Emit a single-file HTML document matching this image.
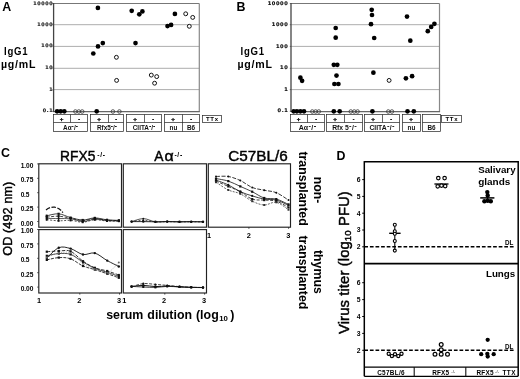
<!DOCTYPE html>
<html><head><meta charset="utf-8"><title>Figure</title>
<style>html,body{margin:0;padding:0;background:#fff;}svg{display:block;font-family:"Liberation Sans", sans-serif;}</style>
</head><body>
<svg width="520" height="379" viewBox="0 0 520 379">
<rect width="520" height="379" fill="#fff"/>
<line x1="53.6" y1="24.7" x2="199.3" y2="24.7" stroke="#a4a4a4" stroke-width="0.9" />
<line x1="53.6" y1="46.4" x2="199.3" y2="46.4" stroke="#a4a4a4" stroke-width="0.9" />
<line x1="53.6" y1="68.3" x2="199.3" y2="68.3" stroke="#a4a4a4" stroke-width="0.9" />
<line x1="53.6" y1="89.6" x2="199.3" y2="89.6" stroke="#a4a4a4" stroke-width="0.9" />
<line x1="53.6" y1="3.5" x2="199.3" y2="3.5" stroke="#777" stroke-width="1" />
<line x1="199.3" y1="3.5" x2="199.3" y2="111.3" stroke="#888" stroke-width="1.2" />
<line x1="53.6" y1="111.6" x2="199.9" y2="111.6" stroke="#666" stroke-width="1.1" />
<line x1="53.6" y1="3.0" x2="53.6" y2="112.1" stroke="#444" stroke-width="1.3" />
<line x1="52.4" y1="3.5" x2="53.6" y2="3.5" stroke="#444" stroke-width="0.7" />
<text x="53.3" y="4.5" font-size="4.8" font-weight="bold" text-anchor="end" fill="#111" font-family="DejaVu Sans, Liberation Sans, sans-serif" letter-spacing="0.65" stroke="#111" stroke-width="0.15">10000</text>
<line x1="52.4" y1="24.7" x2="53.6" y2="24.7" stroke="#444" stroke-width="0.7" />
<text x="53.3" y="25.7" font-size="4.8" font-weight="bold" text-anchor="end" fill="#111" font-family="DejaVu Sans, Liberation Sans, sans-serif" letter-spacing="0.65" stroke="#111" stroke-width="0.15">1000</text>
<line x1="52.4" y1="46.4" x2="53.6" y2="46.4" stroke="#444" stroke-width="0.7" />
<text x="53.3" y="47.4" font-size="4.8" font-weight="bold" text-anchor="end" fill="#111" font-family="DejaVu Sans, Liberation Sans, sans-serif" letter-spacing="0.65" stroke="#111" stroke-width="0.15">100</text>
<line x1="52.4" y1="68.3" x2="53.6" y2="68.3" stroke="#444" stroke-width="0.7" />
<text x="53.3" y="69.3" font-size="4.8" font-weight="bold" text-anchor="end" fill="#111" font-family="DejaVu Sans, Liberation Sans, sans-serif" letter-spacing="0.65" stroke="#111" stroke-width="0.15">10</text>
<line x1="52.4" y1="89.6" x2="53.6" y2="89.6" stroke="#444" stroke-width="0.7" />
<text x="53.3" y="90.6" font-size="4.8" font-weight="bold" text-anchor="end" fill="#111" font-family="DejaVu Sans, Liberation Sans, sans-serif" letter-spacing="0.65" stroke="#111" stroke-width="0.15">1</text>
<line x1="52.4" y1="111.3" x2="53.6" y2="111.3" stroke="#444" stroke-width="0.7" />
<text x="53.3" y="112.3" font-size="4.8" font-weight="bold" text-anchor="end" fill="#111" font-family="DejaVu Sans, Liberation Sans, sans-serif" letter-spacing="0.65" stroke="#111" stroke-width="0.15">0.1</text>
<circle cx="97.9" cy="7.9" r="2.35" fill="#000"/>
<circle cx="102.8" cy="43.1" r="2.35" fill="#000"/>
<circle cx="98.0" cy="46.4" r="2.35" fill="#000"/>
<circle cx="93.3" cy="53.5" r="2.35" fill="#000"/>
<circle cx="131.7" cy="10.8" r="2.35" fill="#000"/>
<circle cx="139.3" cy="14.3" r="2.35" fill="#000"/>
<circle cx="142.4" cy="11.4" r="2.35" fill="#000"/>
<circle cx="135.5" cy="43.1" r="2.35" fill="#000"/>
<circle cx="174.9" cy="13.9" r="2.35" fill="#000"/>
<circle cx="167.5" cy="26.1" r="2.35" fill="#000"/>
<circle cx="171.1" cy="24.9" r="2.35" fill="#000"/>
<circle cx="116.4" cy="57.3" r="1.95" fill="#fff" stroke="#111" stroke-width="1.0"/>
<circle cx="116.6" cy="80.4" r="1.95" fill="#fff" stroke="#111" stroke-width="1.0"/>
<circle cx="185.7" cy="13.8" r="1.95" fill="#fff" stroke="#111" stroke-width="1.0"/>
<circle cx="192.7" cy="17.4" r="1.95" fill="#fff" stroke="#111" stroke-width="1.0"/>
<circle cx="189.3" cy="26.3" r="1.95" fill="#fff" stroke="#111" stroke-width="1.0"/>
<circle cx="151.3" cy="75.1" r="1.95" fill="#fff" stroke="#111" stroke-width="1.0"/>
<circle cx="156.7" cy="76.6" r="1.95" fill="#fff" stroke="#111" stroke-width="1.0"/>
<circle cx="154.6" cy="83.2" r="1.95" fill="#fff" stroke="#111" stroke-width="1.0"/>
<circle cx="75.4" cy="111.5" r="1.8" fill="none" stroke="#333" stroke-width="0.8"/>
<circle cx="78.8" cy="111.5" r="1.8" fill="none" stroke="#333" stroke-width="0.8"/>
<circle cx="82.2" cy="111.5" r="1.8" fill="none" stroke="#333" stroke-width="0.8"/>
<circle cx="112.9" cy="111.5" r="1.8" fill="none" stroke="#333" stroke-width="0.8"/>
<circle cx="119.4" cy="111.5" r="1.8" fill="none" stroke="#333" stroke-width="0.8"/>
<circle cx="57.1" cy="111.3" r="2.35" fill="#000"/>
<circle cx="60.7" cy="111.3" r="2.35" fill="#000"/>
<circle cx="64.3" cy="111.3" r="2.35" fill="#000"/>
<circle cx="96.7" cy="111.3" r="2.35" fill="#000"/>
<text x="2.3" y="10.6" font-size="12.4" font-weight="bold" text-anchor="start" fill="#000" >A</text>
<text transform="translate(3.9,55.0) scale(0.88,1)" font-size="10.9" font-weight="bold" fill="#000" letter-spacing="0.95">IgG1</text>
<text x="1.0" y="67.8" font-size="10.6" font-weight="bold" text-anchor="start" fill="#000" textLength="34.5" lengthAdjust="spacing">µg/mL</text>
<rect x="53.5" y="114.5" width="34.0" height="17.0" fill="none" stroke="#222" stroke-width="0.7"/>
<line x1="53.5" y1="122.5" x2="87.5" y2="122.5" stroke="#222" stroke-width="0.7" />
<line x1="70.5" y1="114.5" x2="70.5" y2="122.5" stroke="#222" stroke-width="0.7" />
<text x="61.6" y="120.9" font-size="6.2" font-weight="bold" text-anchor="middle" fill="#000" stroke="#000" stroke-width="0.3">+</text>
<text x="79.0" y="120.6" font-size="6.5" font-weight="bold" text-anchor="middle" fill="#000" >-</text>
<text x="70.5" y="129.7" font-size="6.4" font-weight="bold" text-anchor="middle" fill="#111">Aα<tspan dy="-2.2" font-size="6.8">-</tspan><tspan dy="2.2">/</tspan><tspan dy="-2.2" font-size="6.8">-</tspan></text>
<rect x="90.5" y="114.5" width="33.0" height="17.0" fill="none" stroke="#222" stroke-width="0.7"/>
<line x1="90.5" y1="122.5" x2="123.5" y2="122.5" stroke="#222" stroke-width="0.7" />
<line x1="108.5" y1="114.5" x2="108.5" y2="122.5" stroke="#222" stroke-width="0.7" />
<text x="99.1" y="120.9" font-size="6.2" font-weight="bold" text-anchor="middle" fill="#000" stroke="#000" stroke-width="0.3">+</text>
<text x="116.0" y="120.6" font-size="6.5" font-weight="bold" text-anchor="middle" fill="#000" >-</text>
<text x="107.0" y="129.7" font-size="6.4" font-weight="bold" text-anchor="middle" fill="#111">Rfx5<tspan dy="-2.2" font-size="6.8">-</tspan><tspan dy="2.2">/</tspan><tspan dy="-2.2" font-size="6.8">-</tspan></text>
<rect x="126.5" y="114.5" width="35.0" height="17.0" fill="none" stroke="#222" stroke-width="0.7"/>
<line x1="126.5" y1="122.5" x2="161.5" y2="122.5" stroke="#222" stroke-width="0.7" />
<line x1="144.5" y1="114.5" x2="144.5" y2="122.5" stroke="#222" stroke-width="0.7" />
<text x="135.1" y="120.9" font-size="6.2" font-weight="bold" text-anchor="middle" fill="#000" stroke="#000" stroke-width="0.3">+</text>
<text x="153.0" y="120.6" font-size="6.5" font-weight="bold" text-anchor="middle" fill="#000" >-</text>
<text x="144.0" y="129.7" font-size="6.4" font-weight="bold" text-anchor="middle" fill="#111">CIITA<tspan dy="-2.2" font-size="6.8">-</tspan><tspan dy="2.2">/</tspan><tspan dy="-2.2" font-size="6.8">-</tspan></text>
<rect x="164.5" y="114.5" width="35.0" height="17.0" fill="none" stroke="#222" stroke-width="0.7"/>
<line x1="164.5" y1="122.5" x2="199.5" y2="122.5" stroke="#222" stroke-width="0.7" />
<line x1="182.5" y1="114.5" x2="182.5" y2="131.5" stroke="#222" stroke-width="0.7" />
<text x="173.1" y="120.9" font-size="6.2" font-weight="bold" text-anchor="middle" fill="#000" stroke="#000" stroke-width="0.3">+</text>
<text x="191.0" y="120.6" font-size="6.5" font-weight="bold" text-anchor="middle" fill="#000" >-</text>
<text x="173.5" y="129.7" font-size="6.4" font-weight="bold" text-anchor="middle" fill="#111">nu</text>
<text x="191.0" y="129.7" font-size="6.4" font-weight="bold" text-anchor="middle" fill="#111">B6</text>
<rect x="202.5" y="115.5" width="19.0" height="7" fill="none" stroke="#222" stroke-width="0.7"/>
<text x="212.3" y="121.3" font-size="6.0" font-weight="bold" text-anchor="middle" fill="#000" letter-spacing="0.7">TTx</text>
<line x1="291.0" y1="24.7" x2="439.5" y2="24.7" stroke="#a4a4a4" stroke-width="0.9" />
<line x1="291.0" y1="46.4" x2="439.5" y2="46.4" stroke="#a4a4a4" stroke-width="0.9" />
<line x1="291.0" y1="68.3" x2="439.5" y2="68.3" stroke="#a4a4a4" stroke-width="0.9" />
<line x1="291.0" y1="89.6" x2="439.5" y2="89.6" stroke="#a4a4a4" stroke-width="0.9" />
<line x1="291.0" y1="3.5" x2="439.5" y2="3.5" stroke="#777" stroke-width="1" />
<line x1="439.5" y1="3.5" x2="439.5" y2="111.3" stroke="#888" stroke-width="1.2" />
<line x1="291.0" y1="111.6" x2="440.1" y2="111.6" stroke="#666" stroke-width="1.1" />
<line x1="291.0" y1="3.0" x2="291.0" y2="112.1" stroke="#444" stroke-width="1.3" />
<line x1="289.8" y1="3.5" x2="291.0" y2="3.5" stroke="#444" stroke-width="0.7" />
<text x="288.4" y="4.6" font-size="5.1" font-weight="bold" text-anchor="end" fill="#111" font-family="DejaVu Sans, Liberation Sans, sans-serif" letter-spacing="0.6" stroke="#111" stroke-width="0.15">10000</text>
<line x1="289.8" y1="24.7" x2="291.0" y2="24.7" stroke="#444" stroke-width="0.7" />
<text x="288.4" y="25.8" font-size="5.1" font-weight="bold" text-anchor="end" fill="#111" font-family="DejaVu Sans, Liberation Sans, sans-serif" letter-spacing="0.6" stroke="#111" stroke-width="0.15">1000</text>
<line x1="289.8" y1="46.4" x2="291.0" y2="46.4" stroke="#444" stroke-width="0.7" />
<text x="288.4" y="47.5" font-size="5.1" font-weight="bold" text-anchor="end" fill="#111" font-family="DejaVu Sans, Liberation Sans, sans-serif" letter-spacing="0.6" stroke="#111" stroke-width="0.15">100</text>
<line x1="289.8" y1="68.3" x2="291.0" y2="68.3" stroke="#444" stroke-width="0.7" />
<text x="288.4" y="69.4" font-size="5.1" font-weight="bold" text-anchor="end" fill="#111" font-family="DejaVu Sans, Liberation Sans, sans-serif" letter-spacing="0.6" stroke="#111" stroke-width="0.15">10</text>
<line x1="289.8" y1="89.6" x2="291.0" y2="89.6" stroke="#444" stroke-width="0.7" />
<text x="288.4" y="90.7" font-size="5.1" font-weight="bold" text-anchor="end" fill="#111" font-family="DejaVu Sans, Liberation Sans, sans-serif" letter-spacing="0.6" stroke="#111" stroke-width="0.15">1</text>
<line x1="289.8" y1="111.3" x2="291.0" y2="111.3" stroke="#444" stroke-width="0.7" />
<text x="288.4" y="112.4" font-size="5.1" font-weight="bold" text-anchor="end" fill="#111" font-family="DejaVu Sans, Liberation Sans, sans-serif" letter-spacing="0.6" stroke="#111" stroke-width="0.15">0.1</text>
<circle cx="335.7" cy="28.0" r="2.35" fill="#000"/>
<circle cx="335.7" cy="37.7" r="2.35" fill="#000"/>
<circle cx="300.4" cy="77.7" r="2.35" fill="#000"/>
<circle cx="302.1" cy="80.8" r="2.35" fill="#000"/>
<circle cx="333.8" cy="64.8" r="2.35" fill="#000"/>
<circle cx="337.3" cy="64.8" r="2.35" fill="#000"/>
<circle cx="336.5" cy="75.6" r="2.35" fill="#000"/>
<circle cx="334.4" cy="84.0" r="2.35" fill="#000"/>
<circle cx="338.4" cy="84.0" r="2.35" fill="#000"/>
<circle cx="371.7" cy="9.8" r="2.35" fill="#000"/>
<circle cx="372.0" cy="15.0" r="2.35" fill="#000"/>
<circle cx="371.0" cy="24.2" r="2.35" fill="#000"/>
<circle cx="374.2" cy="38.0" r="2.35" fill="#000"/>
<circle cx="407.0" cy="16.6" r="2.35" fill="#000"/>
<circle cx="410.3" cy="40.7" r="2.35" fill="#000"/>
<circle cx="427.8" cy="31.2" r="2.35" fill="#000"/>
<circle cx="431.2" cy="26.9" r="2.35" fill="#000"/>
<circle cx="434.4" cy="23.8" r="2.35" fill="#000"/>
<circle cx="373.4" cy="72.7" r="2.35" fill="#000"/>
<circle cx="405.9" cy="78.3" r="2.35" fill="#000"/>
<circle cx="412.1" cy="76.2" r="2.35" fill="#000"/>
<circle cx="389.1" cy="80.4" r="1.95" fill="#fff" stroke="#111" stroke-width="1.0"/>
<circle cx="312.3" cy="111.5" r="1.8" fill="none" stroke="#333" stroke-width="0.8"/>
<circle cx="315.6" cy="111.5" r="1.8" fill="none" stroke="#333" stroke-width="0.8"/>
<circle cx="318.8" cy="111.5" r="1.8" fill="none" stroke="#333" stroke-width="0.8"/>
<circle cx="350.8" cy="111.5" r="1.8" fill="none" stroke="#333" stroke-width="0.8"/>
<circle cx="354.3" cy="111.5" r="1.8" fill="none" stroke="#333" stroke-width="0.8"/>
<circle cx="357.6" cy="111.5" r="1.8" fill="none" stroke="#333" stroke-width="0.8"/>
<circle cx="388.3" cy="111.5" r="1.8" fill="none" stroke="#333" stroke-width="0.8"/>
<circle cx="391.9" cy="111.5" r="1.8" fill="none" stroke="#333" stroke-width="0.8"/>
<circle cx="293.7" cy="111.3" r="2.35" fill="#000"/>
<circle cx="296.9" cy="111.3" r="2.35" fill="#000"/>
<circle cx="300.4" cy="111.3" r="2.35" fill="#000"/>
<circle cx="304.0" cy="111.3" r="2.35" fill="#000"/>
<circle cx="333.8" cy="111.3" r="2.35" fill="#000"/>
<circle cx="339.7" cy="111.3" r="2.35" fill="#000"/>
<circle cx="372.4" cy="111.3" r="2.35" fill="#000"/>
<circle cx="407.5" cy="111.3" r="2.35" fill="#000"/>
<circle cx="413.8" cy="111.3" r="2.35" fill="#000"/>
<text x="236.4" y="10.6" font-size="12.4" font-weight="bold" text-anchor="start" fill="#000" >B</text>
<text transform="translate(240.4,55.0) scale(0.88,1)" font-size="10.9" font-weight="bold" fill="#000" letter-spacing="0.95">IgG1</text>
<text x="237.5" y="67.8" font-size="10.6" font-weight="bold" text-anchor="start" fill="#000" textLength="34.5" lengthAdjust="spacing">µg/mL</text>
<rect x="290.5" y="114.5" width="34.0" height="17.0" fill="none" stroke="#222" stroke-width="0.7"/>
<line x1="290.5" y1="122.5" x2="324.5" y2="122.5" stroke="#222" stroke-width="0.7" />
<line x1="307.5" y1="114.5" x2="307.5" y2="122.5" stroke="#222" stroke-width="0.7" />
<text x="298.6" y="120.9" font-size="6.2" font-weight="bold" text-anchor="middle" fill="#000" stroke="#000" stroke-width="0.3">+</text>
<text x="316.0" y="120.6" font-size="6.5" font-weight="bold" text-anchor="middle" fill="#000" >-</text>
<text x="307.5" y="129.7" font-size="6.4" font-weight="bold" text-anchor="middle" fill="#111"><tspan font-size="7">Aα<tspan dy="-2.2" dx="0.3" font-size="7.5">-</tspan><tspan dy="2.2" dx="0.4">/</tspan><tspan dy="-2.2" dx="0.4" font-size="7.5">-</tspan></tspan></text>
<rect x="326.5" y="114.5" width="36.0" height="17.0" fill="none" stroke="#222" stroke-width="0.7"/>
<line x1="326.5" y1="122.5" x2="362.5" y2="122.5" stroke="#222" stroke-width="0.7" />
<line x1="344.5" y1="114.5" x2="344.5" y2="122.5" stroke="#222" stroke-width="0.7" />
<text x="335.1" y="120.9" font-size="6.2" font-weight="bold" text-anchor="middle" fill="#000" stroke="#000" stroke-width="0.3">+</text>
<text x="353.5" y="120.6" font-size="6.5" font-weight="bold" text-anchor="middle" fill="#000" >-</text>
<text x="344.5" y="129.7" font-size="6.4" font-weight="bold" text-anchor="middle" fill="#111"><tspan font-size="6.8">Rfx 5<tspan dy="-2.2" dx="0.3" font-size="7.5">-</tspan><tspan dy="2.2" dx="0.4">/</tspan><tspan dy="-2.2" dx="0.4" font-size="7.5">-</tspan></tspan></text>
<rect x="364.5" y="114.5" width="35.0" height="17.0" fill="none" stroke="#222" stroke-width="0.7"/>
<line x1="364.5" y1="122.5" x2="399.5" y2="122.5" stroke="#222" stroke-width="0.7" />
<line x1="382.5" y1="114.5" x2="382.5" y2="122.5" stroke="#222" stroke-width="0.7" />
<text x="373.1" y="120.9" font-size="6.2" font-weight="bold" text-anchor="middle" fill="#000" stroke="#000" stroke-width="0.3">+</text>
<text x="391.0" y="120.6" font-size="6.5" font-weight="bold" text-anchor="middle" fill="#000" >-</text>
<text x="382.0" y="129.7" font-size="6.4" font-weight="bold" text-anchor="middle" fill="#111"><tspan font-size="6.8">CIITA<tspan dy="-2.2" dx="0.3" font-size="7.5">-</tspan><tspan dy="2.2" dx="0.4">/</tspan><tspan dy="-2.2" dx="0.4" font-size="7.5">-</tspan></tspan></text>
<rect x="402.5" y="114.5" width="18.0" height="17.0" fill="none" stroke="#222" stroke-width="0.7"/>
<line x1="402.5" y1="122.5" x2="420.5" y2="122.5" stroke="#222" stroke-width="0.7" />
<text x="411.1" y="120.9" font-size="6.2" font-weight="bold" text-anchor="middle" fill="#000" stroke="#000" stroke-width="0.3">+</text>
<text x="411.5" y="129.7" font-size="6.4" font-weight="bold" text-anchor="middle" fill="#111">nu</text>
<rect x="422.5" y="114.5" width="18.0" height="17.0" fill="none" stroke="#222" stroke-width="0.7"/>
<line x1="422.5" y1="122.5" x2="440.5" y2="122.5" stroke="#222" stroke-width="0.7" />
<text x="431.5" y="129.7" font-size="6.4" font-weight="bold" text-anchor="middle" fill="#111">B6</text>
<rect x="441.5" y="115.5" width="20.0" height="7" fill="none" stroke="#222" stroke-width="0.7"/>
<text x="451.8" y="121.3" font-size="6.0" font-weight="bold" text-anchor="middle" fill="#000" letter-spacing="0.7">TTx</text>
<text x="1.0" y="157.1" font-size="12.4" font-weight="bold" text-anchor="start" fill="#000" >C</text>
<rect x="38.8" y="163.8" width="82.7" height="63.4" fill="none" stroke="#222" stroke-width="1.15"/>
<rect x="123.3" y="163.8" width="83.2" height="63.4" fill="none" stroke="#222" stroke-width="1.15"/>
<rect x="208.3" y="163.8" width="82.2" height="63.4" fill="none" stroke="#222" stroke-width="1.15"/>
<rect x="38.8" y="229.6" width="82.7" height="63.4" fill="none" stroke="#222" stroke-width="1.15"/>
<rect x="123.3" y="229.6" width="83.2" height="63.4" fill="none" stroke="#222" stroke-width="1.15"/>
<line x1="37.2" y1="163.9" x2="38.7" y2="163.9" stroke="#222" stroke-width="0.8" />
<text x="20.7" y="167.7" font-size="6.6" font-weight="bold" text-anchor="start" fill="#000" textLength="12.7" lengthAdjust="spacing">1.00</text>
<line x1="37.2" y1="229.5" x2="38.7" y2="229.5" stroke="#222" stroke-width="0.8" />
<text x="20.7" y="233.1" font-size="6.6" font-weight="bold" text-anchor="start" fill="#000" textLength="12.7" lengthAdjust="spacing">1.00</text>
<line x1="37.2" y1="178.3" x2="38.7" y2="178.3" stroke="#222" stroke-width="0.8" />
<text x="20.7" y="182.2" font-size="6.6" font-weight="bold" text-anchor="start" fill="#000" textLength="12.7" lengthAdjust="spacing">0.75</text>
<line x1="37.2" y1="243.9" x2="38.7" y2="243.9" stroke="#222" stroke-width="0.8" />
<text x="20.7" y="247.7" font-size="6.6" font-weight="bold" text-anchor="start" fill="#000" textLength="12.7" lengthAdjust="spacing">0.75</text>
<line x1="37.2" y1="192.7" x2="38.7" y2="192.7" stroke="#222" stroke-width="0.8" />
<text x="20.7" y="196.8" font-size="6.6" font-weight="bold" text-anchor="start" fill="#000" textLength="8.6" lengthAdjust="spacing">0.5</text>
<line x1="37.2" y1="258.3" x2="38.7" y2="258.3" stroke="#222" stroke-width="0.8" />
<text x="20.7" y="262.2" font-size="6.6" font-weight="bold" text-anchor="start" fill="#000" textLength="8.6" lengthAdjust="spacing">0.5</text>
<line x1="37.2" y1="207.1" x2="38.7" y2="207.1" stroke="#222" stroke-width="0.8" />
<text x="20.7" y="211.3" font-size="6.6" font-weight="bold" text-anchor="start" fill="#000" textLength="12.7" lengthAdjust="spacing">0.25</text>
<line x1="37.2" y1="272.7" x2="38.7" y2="272.7" stroke="#222" stroke-width="0.8" />
<text x="20.7" y="276.8" font-size="6.6" font-weight="bold" text-anchor="start" fill="#000" textLength="12.7" lengthAdjust="spacing">0.25</text>
<line x1="37.2" y1="221.5" x2="38.7" y2="221.5" stroke="#222" stroke-width="0.8" />
<text x="20.7" y="225.9" font-size="6.6" font-weight="bold" text-anchor="start" fill="#000" textLength="12.7" lengthAdjust="spacing">0.00</text>
<line x1="37.2" y1="287.1" x2="38.7" y2="287.1" stroke="#222" stroke-width="0.8" />
<text x="20.7" y="291.3" font-size="6.6" font-weight="bold" text-anchor="start" fill="#000" textLength="12.7" lengthAdjust="spacing">0.00</text>
<text x="39.0" y="302.6" font-size="7.4" font-weight="bold" text-anchor="middle" fill="#000" >1</text>
<text x="79.3" y="302.6" font-size="7.4" font-weight="bold" text-anchor="middle" fill="#000" >2</text>
<text x="119.1" y="302.6" font-size="7.4" font-weight="bold" text-anchor="middle" fill="#000" >3</text>
<text x="124.2" y="302.6" font-size="7.4" font-weight="bold" text-anchor="middle" fill="#000" >1</text>
<text x="164.0" y="302.6" font-size="7.4" font-weight="bold" text-anchor="middle" fill="#000" >2</text>
<text x="204.0" y="302.6" font-size="7.4" font-weight="bold" text-anchor="middle" fill="#000" >3</text>
<line x1="79.8" y1="293.0" x2="79.8" y2="294.6" stroke="#222" stroke-width="0.8" />
<line x1="119.5" y1="293.0" x2="119.5" y2="294.6" stroke="#222" stroke-width="0.8" />
<line x1="164.8" y1="293.0" x2="164.8" y2="294.6" stroke="#222" stroke-width="0.8" />
<line x1="204.6" y1="293.0" x2="204.6" y2="294.6" stroke="#222" stroke-width="0.8" />
<text x="209.0" y="237.5" font-size="7.4" font-weight="bold" text-anchor="middle" fill="#000" >1</text>
<text x="248.8" y="237.5" font-size="7.4" font-weight="bold" text-anchor="middle" fill="#000" >2</text>
<text x="288.4" y="237.5" font-size="7.4" font-weight="bold" text-anchor="middle" fill="#000" >3</text>
<line x1="248.9" y1="227.2" x2="248.9" y2="228.8" stroke="#222" stroke-width="0.8" />
<line x1="288.6" y1="227.2" x2="288.6" y2="228.8" stroke="#222" stroke-width="0.8" />
<text x="59.9" y="160.6" font-size="13.8" font-weight="normal" fill="#000" stroke="#000" stroke-width="0.4" letter-spacing="0.1">RFX5</text>
<text x="97.3" y="157.0" font-size="6.8" font-weight="bold" fill="#000" letter-spacing="0.7">-/-</text>
<text x="154.3" y="160.6" font-size="13.8" font-weight="normal" fill="#000" stroke="#000" stroke-width="0.4">A</text>
<text x="164.5" y="160.6" font-size="13.8" font-weight="normal" fill="#000" stroke="#000" stroke-width="0.4" textLength="9.2" lengthAdjust="spacingAndGlyphs">α</text>
<text x="174.4" y="157.0" font-size="6.8" font-weight="bold" fill="#000" letter-spacing="0.7">-/-</text>
<text x="228.3" y="160.6" font-size="13.8" font-weight="normal" fill="#000" stroke="#000" stroke-width="0.4" textLength="59.4" lengthAdjust="spacingAndGlyphs">C57BL/6</text>
<text transform="translate(11.6,255.7) rotate(-90)" font-size="12.8" font-weight="normal" fill="#000" stroke="#000" stroke-width="0.4">OD (492 nm)</text>
<text x="106.2" y="318.5" font-size="12.4" font-weight="bold" fill="#000" word-spacing="0.5">serum dilution (log<tspan font-size="7.8" dy="2.7" dx="0.5">10</tspan><tspan dy="-2.7" dx="2.3">)</tspan></text>
<text transform="translate(298.8,151.4) rotate(90)" font-size="12.4" font-weight="bold" fill="#000">transplanted</text>
<text transform="translate(313.9,176.7) rotate(90)" font-size="12.3" font-weight="bold" fill="#000">non-</text>
<text transform="translate(298.9,235.5) rotate(90)" font-size="12.3" font-weight="bold" fill="#000">transplanted</text>
<text transform="translate(314.4,250.0) rotate(90)" font-size="12.3" font-weight="bold" fill="#000">thymus</text>
<path d="M46.7,215.8 C48.7,215.5 54.6,213.5 58.6,213.8 C62.6,214.1 66.6,216.6 70.6,217.6 C74.6,218.6 78.7,219.9 82.7,220.0 C86.7,220.1 90.8,217.9 94.8,217.9 C98.8,217.9 103.0,219.4 107.0,219.8 C111.0,220.2 116.9,220.3 118.9,220.4" fill="none" stroke="#111" stroke-width="0.8" />
<rect x="45.6" y="214.7" width="2.2" height="2.2" fill="#111"/>
<rect x="57.5" y="212.7" width="2.2" height="2.2" fill="#111"/>
<rect x="69.5" y="216.5" width="2.2" height="2.2" fill="#111"/>
<rect x="81.6" y="218.9" width="2.2" height="2.2" fill="#111"/>
<rect x="93.7" y="216.8" width="2.2" height="2.2" fill="#111"/>
<rect x="105.9" y="218.7" width="2.2" height="2.2" fill="#111"/>
<rect x="117.8" y="219.3" width="2.2" height="2.2" fill="#111"/>
<path d="M46.7,217.2 C48.7,217.0 54.6,216.0 58.6,216.2 C62.6,216.4 66.6,217.5 70.6,218.2 C74.6,218.9 78.7,220.5 82.7,220.6 C86.7,220.7 90.8,218.7 94.8,218.6 C98.8,218.5 103.0,219.9 107.0,220.2 C111.0,220.5 116.9,220.5 118.9,220.6" fill="none" stroke="#111" stroke-width="0.8" stroke-dasharray="3 1.5"/>
<rect x="45.6" y="216.1" width="2.2" height="2.2" fill="#111"/>
<rect x="57.5" y="215.1" width="2.2" height="2.2" fill="#111"/>
<rect x="69.5" y="217.1" width="2.2" height="2.2" fill="#111"/>
<rect x="81.6" y="219.5" width="2.2" height="2.2" fill="#111"/>
<rect x="93.7" y="217.5" width="2.2" height="2.2" fill="#111"/>
<rect x="105.9" y="219.1" width="2.2" height="2.2" fill="#111"/>
<rect x="117.8" y="219.5" width="2.2" height="2.2" fill="#111"/>
<path d="M46.7,218.4 C48.7,218.4 54.6,218.5 58.6,218.6 C62.6,218.7 66.6,218.3 70.6,218.8 C74.6,219.3 78.7,221.5 82.7,221.6 C86.7,221.7 90.8,219.4 94.8,219.2 C98.8,219.0 103.0,220.3 107.0,220.6 C111.0,220.9 116.9,220.9 118.9,221.0" fill="none" stroke="#111" stroke-width="0.7" />
<circle cx="46.7" cy="218.4" r="1.0" fill="#111"/>
<circle cx="58.6" cy="218.6" r="1.0" fill="#111"/>
<circle cx="70.6" cy="218.8" r="1.0" fill="#111"/>
<circle cx="82.7" cy="221.6" r="1.0" fill="#111"/>
<circle cx="94.8" cy="219.2" r="1.0" fill="#111"/>
<circle cx="107.0" cy="220.6" r="1.0" fill="#111"/>
<circle cx="118.9" cy="221.0" r="1.0" fill="#111"/>
<path d="M46.7,219.6 C48.7,219.8 54.6,220.7 58.6,220.8 C62.6,220.9 66.6,220.2 70.6,220.4 C74.6,220.6 78.7,222.3 82.7,222.2 C86.7,222.1 90.8,220.0 94.8,219.8 C98.8,219.6 103.0,220.8 107.0,221.0 C111.0,221.2 116.9,221.2 118.9,221.2" fill="none" stroke="#111" stroke-width="0.7" stroke-dasharray="2 1.5"/>
<rect x="45.7" y="218.6" width="2.0" height="2.0" fill="#111"/>
<rect x="57.6" y="219.8" width="2.0" height="2.0" fill="#111"/>
<rect x="69.6" y="219.4" width="2.0" height="2.0" fill="#111"/>
<rect x="81.7" y="221.2" width="2.0" height="2.0" fill="#111"/>
<rect x="93.8" y="218.8" width="2.0" height="2.0" fill="#111"/>
<rect x="106.0" y="220.0" width="2.0" height="2.0" fill="#111"/>
<rect x="117.9" y="220.2" width="2.0" height="2.0" fill="#111"/>
<path d="M46.0,209.9 C49,207.6 52,206.9 54.5,207.2 C58,207.7 61,209.8 62.9,212.6" fill="none" stroke="#111" stroke-width="1.25" stroke-dasharray="4.5 1.5"/>
<line x1="46.7" y1="214.8" x2="46.7" y2="220.6" stroke="#111" stroke-width="1.0" />
<line x1="58.6" y1="214.8" x2="58.6" y2="220.6" stroke="#111" stroke-width="1.0" />
<path d="M46.8,258.1 C48.8,256.4 54.8,249.3 58.8,247.7 C62.8,246.1 66.6,247.5 70.6,248.6 C74.6,249.7 79.0,253.8 83.0,254.5 C87.0,255.2 90.8,252.1 94.8,253.1 C98.8,254.1 103.2,258.4 107.2,260.6 C111.2,262.8 116.9,265.5 118.8,266.5" fill="none" stroke="#111" stroke-width="0.9" />
<circle cx="46.8" cy="258.1" r="1.2" fill="#111"/>
<circle cx="58.8" cy="247.7" r="1.2" fill="#111"/>
<circle cx="70.6" cy="248.6" r="1.2" fill="#111"/>
<circle cx="83.0" cy="254.5" r="1.2" fill="#111"/>
<circle cx="94.8" cy="253.1" r="1.2" fill="#111"/>
<circle cx="107.2" cy="260.6" r="1.2" fill="#111"/>
<circle cx="118.8" cy="266.5" r="1.2" fill="#111"/>
<path d="M46.8,251.7 C48.8,251.6 54.8,251.1 58.8,251.0 C62.8,250.9 66.6,249.6 70.6,251.3 C74.6,253.0 79.0,258.4 83.0,261.2 C87.0,263.9 90.8,266.2 94.8,267.8 C98.8,269.4 103.2,269.8 107.2,271.0 C111.2,272.2 116.9,274.3 118.8,275.0" fill="none" stroke="#111" stroke-width="0.85" stroke-dasharray="3.5 1.5"/>
<rect x="45.7" y="250.6" width="2.2" height="2.2" fill="#111"/>
<rect x="57.7" y="249.9" width="2.2" height="2.2" fill="#111"/>
<rect x="69.5" y="250.2" width="2.2" height="2.2" fill="#111"/>
<rect x="81.9" y="260.1" width="2.2" height="2.2" fill="#111"/>
<rect x="93.7" y="266.7" width="2.2" height="2.2" fill="#111"/>
<rect x="106.1" y="269.9" width="2.2" height="2.2" fill="#111"/>
<rect x="117.7" y="273.9" width="2.2" height="2.2" fill="#111"/>
<path d="M46.8,255.8 C48.8,255.4 54.8,253.8 58.8,253.6 C62.8,253.4 66.6,253.0 70.6,254.4 C74.6,255.8 79.0,259.7 83.0,262.0 C87.0,264.3 90.8,266.6 94.8,268.3 C98.8,270.0 103.2,271.0 107.2,272.3 C111.2,273.6 116.9,275.7 118.8,276.4" fill="none" stroke="#111" stroke-width="0.75" />
<rect x="45.7" y="254.7" width="2.2" height="2.2" fill="#111"/>
<rect x="57.7" y="252.5" width="2.2" height="2.2" fill="#111"/>
<rect x="69.5" y="253.3" width="2.2" height="2.2" fill="#111"/>
<rect x="81.9" y="260.9" width="2.2" height="2.2" fill="#111"/>
<rect x="93.7" y="267.2" width="2.2" height="2.2" fill="#111"/>
<rect x="106.1" y="271.2" width="2.2" height="2.2" fill="#111"/>
<rect x="117.7" y="275.3" width="2.2" height="2.2" fill="#111"/>
<path d="M46.8,259.9 C48.8,259.5 54.8,257.8 58.8,257.6 C62.8,257.4 66.6,257.4 70.6,258.8 C74.6,260.2 79.0,264.2 83.0,266.0 C87.0,267.8 90.8,268.3 94.8,269.6 C98.8,270.9 103.2,272.3 107.2,273.7 C111.2,275.1 116.9,277.1 118.8,277.8" fill="none" stroke="#111" stroke-width="0.85" stroke-dasharray="3 1.2"/>
<rect x="45.7" y="258.8" width="2.2" height="2.2" fill="#111"/>
<rect x="57.7" y="256.5" width="2.2" height="2.2" fill="#111"/>
<rect x="69.5" y="257.7" width="2.2" height="2.2" fill="#111"/>
<rect x="81.9" y="264.9" width="2.2" height="2.2" fill="#111"/>
<rect x="93.7" y="268.5" width="2.2" height="2.2" fill="#111"/>
<rect x="106.1" y="272.6" width="2.2" height="2.2" fill="#111"/>
<rect x="117.7" y="276.7" width="2.2" height="2.2" fill="#111"/>
<path d="M46.8,257.6 C48.8,256.8 54.8,253.8 58.8,253.0 C62.8,252.2 66.6,251.2 70.6,253.0 C74.6,254.8 79.0,261.2 83.0,263.8 C87.0,266.4 90.8,267.4 94.8,268.9 C98.8,270.4 103.2,273.9 107.2,272.8 C111.2,271.7 116.9,264.1 118.8,262.4" fill="none" stroke="#666" stroke-width="0.6" stroke-dasharray="1 1.5"/>
<circle cx="46.8" cy="257.6" r="1.0" fill="#666"/>
<circle cx="58.8" cy="253.0" r="1.0" fill="#666"/>
<circle cx="70.6" cy="253.0" r="1.0" fill="#666"/>
<circle cx="83.0" cy="263.8" r="1.0" fill="#666"/>
<circle cx="94.8" cy="268.9" r="1.0" fill="#666"/>
<circle cx="107.2" cy="272.8" r="1.0" fill="#666"/>
<circle cx="118.8" cy="262.4" r="1.0" fill="#666"/>
<path d="M131.6,221.6 C133.6,221.6 139.3,221.6 143.3,221.6 C147.3,221.6 151.4,221.8 155.4,221.8 C159.4,221.8 163.2,221.6 167.2,221.6 C171.2,221.6 175.5,221.8 179.5,221.8 C183.5,221.8 187.3,221.7 191.2,221.7 C195.1,221.7 201.0,221.8 203.0,221.8" fill="none" stroke="#111" stroke-width="0.9" />
<circle cx="131.6" cy="221.6" r="1.25" fill="#111"/>
<circle cx="143.3" cy="221.6" r="1.25" fill="#111"/>
<circle cx="155.4" cy="221.8" r="1.25" fill="#111"/>
<circle cx="167.2" cy="221.6" r="1.25" fill="#111"/>
<circle cx="179.5" cy="221.8" r="1.25" fill="#111"/>
<circle cx="191.2" cy="221.7" r="1.25" fill="#111"/>
<circle cx="203.0" cy="221.8" r="1.25" fill="#111"/>
<path d="M131.6,221.6 C133.6,221.1 139.3,218.6 143.3,218.6 C147.3,218.6 151.4,221.3 155.4,221.8 C159.4,222.3 163.2,221.6 167.2,221.6 C171.2,221.6 175.5,221.8 179.5,221.8 C183.5,221.8 187.3,221.7 191.2,221.7 C195.1,221.7 201.0,221.8 203.0,221.8" fill="none" stroke="#111" stroke-width="0.7" />
<circle cx="131.6" cy="221.6" r="0.9" fill="#111"/>
<circle cx="143.3" cy="218.6" r="0.9" fill="#111"/>
<circle cx="155.4" cy="221.8" r="0.9" fill="#111"/>
<circle cx="167.2" cy="221.6" r="0.9" fill="#111"/>
<circle cx="179.5" cy="221.8" r="0.9" fill="#111"/>
<circle cx="191.2" cy="221.7" r="0.9" fill="#111"/>
<circle cx="203.0" cy="221.8" r="0.9" fill="#111"/>
<path d="M131.6,221.8 C133.6,221.5 139.3,220.2 143.3,220.2 C147.3,220.2 151.4,221.7 155.4,221.9 C159.4,222.2 163.2,221.7 167.2,221.7 C171.2,221.7 175.5,221.9 179.5,221.9 C183.5,221.9 187.3,221.8 191.2,221.8 C195.1,221.8 201.0,221.9 203.0,221.9" fill="none" stroke="#111" stroke-width="0.7" stroke-dasharray="2 1.5"/>
<circle cx="131.6" cy="221.8" r="0.9" fill="#111"/>
<circle cx="143.3" cy="220.2" r="0.9" fill="#111"/>
<circle cx="155.4" cy="221.9" r="0.9" fill="#111"/>
<circle cx="167.2" cy="221.7" r="0.9" fill="#111"/>
<circle cx="179.5" cy="221.9" r="0.9" fill="#111"/>
<circle cx="191.2" cy="221.8" r="0.9" fill="#111"/>
<circle cx="203.0" cy="221.9" r="0.9" fill="#111"/>
<path d="M131.6,286.6 C133.6,286.4 139.3,285.4 143.3,285.4 C147.3,285.4 151.4,286.5 155.4,286.6 C159.4,286.7 163.2,286.0 167.2,286.0 C171.2,286.0 175.5,286.6 179.5,286.8 C183.5,287.0 187.3,287.2 191.2,287.3 C195.1,287.4 201.0,287.5 203.0,287.5" fill="none" stroke="#111" stroke-width="1.0" />
<circle cx="131.6" cy="286.6" r="1.3" fill="#111"/>
<circle cx="143.3" cy="285.4" r="1.3" fill="#111"/>
<circle cx="155.4" cy="286.6" r="1.3" fill="#111"/>
<circle cx="167.2" cy="286.0" r="1.3" fill="#111"/>
<circle cx="179.5" cy="286.8" r="1.3" fill="#111"/>
<circle cx="191.2" cy="287.3" r="1.3" fill="#111"/>
<circle cx="203.0" cy="287.5" r="1.3" fill="#111"/>
<path d="M131.6,286.8 C133.6,286.3 139.3,284.0 143.3,283.6 C147.3,283.2 151.4,284.1 155.4,284.4 C159.4,284.7 163.2,285.0 167.2,285.4 C171.2,285.8 175.5,286.3 179.5,286.6 C183.5,286.9 187.3,287.2 191.2,287.3 C195.1,287.4 201.0,287.5 203.0,287.5" fill="none" stroke="#111" stroke-width="0.8" stroke-dasharray="3 1.5"/>
<circle cx="131.6" cy="286.8" r="1.0" fill="#111"/>
<circle cx="143.3" cy="283.6" r="1.0" fill="#111"/>
<circle cx="155.4" cy="284.4" r="1.0" fill="#111"/>
<circle cx="167.2" cy="285.4" r="1.0" fill="#111"/>
<circle cx="179.5" cy="286.6" r="1.0" fill="#111"/>
<circle cx="191.2" cy="287.3" r="1.0" fill="#111"/>
<circle cx="203.0" cy="287.5" r="1.0" fill="#111"/>
<path d="M131.6,286.4 C133.6,286.5 139.3,286.8 143.3,287.0 C147.3,287.2 151.4,287.5 155.4,287.4 C159.4,287.3 163.2,286.5 167.2,286.4 C171.2,286.3 175.5,286.8 179.5,287.0 C183.5,287.2 187.3,287.3 191.2,287.4 C195.1,287.5 201.0,287.6 203.0,287.6" fill="none" stroke="#111" stroke-width="0.8" />
<rect x="130.6" y="285.4" width="2.0" height="2.0" fill="#111"/>
<rect x="142.3" y="286.0" width="2.0" height="2.0" fill="#111"/>
<rect x="154.4" y="286.4" width="2.0" height="2.0" fill="#111"/>
<rect x="166.2" y="285.4" width="2.0" height="2.0" fill="#111"/>
<rect x="178.5" y="286.0" width="2.0" height="2.0" fill="#111"/>
<rect x="190.2" y="286.4" width="2.0" height="2.0" fill="#111"/>
<rect x="202.0" y="286.6" width="2.0" height="2.0" fill="#111"/>
<path d="M216.0,176.5 C218.1,176.5 224.2,175.8 228.3,176.5 C232.4,177.2 236.3,178.7 240.3,180.5 C244.3,182.3 248.2,185.9 252.2,187.5 C256.2,189.1 260.2,189.3 264.2,190.2 C268.2,191.1 272.2,191.0 276.3,192.7 C280.4,194.3 286.5,198.9 288.5,200.1" fill="none" stroke="#111" stroke-width="0.85" stroke-dasharray="4 1.5"/>
<circle cx="216.0" cy="176.5" r="1.0" fill="#111"/>
<circle cx="228.3" cy="176.5" r="1.0" fill="#111"/>
<circle cx="240.3" cy="180.5" r="1.0" fill="#111"/>
<circle cx="252.2" cy="187.5" r="1.0" fill="#111"/>
<circle cx="264.2" cy="190.2" r="1.0" fill="#111"/>
<circle cx="276.3" cy="192.7" r="1.0" fill="#111"/>
<circle cx="288.5" cy="200.1" r="1.0" fill="#111"/>
<path d="M216.0,178.6 C218.1,179.0 224.2,179.8 228.3,181.1 C232.4,182.4 236.3,184.6 240.3,186.4 C244.3,188.2 248.2,189.8 252.2,191.7 C256.2,193.6 260.2,196.8 264.2,198.0 C268.2,199.2 272.2,198.0 276.3,199.1 C280.4,200.2 286.5,203.5 288.5,204.4" fill="none" stroke="#111" stroke-width="0.8" />
<rect x="214.9" y="177.5" width="2.2" height="2.2" fill="#111"/>
<rect x="227.2" y="180.0" width="2.2" height="2.2" fill="#111"/>
<rect x="239.2" y="185.3" width="2.2" height="2.2" fill="#111"/>
<rect x="251.1" y="190.6" width="2.2" height="2.2" fill="#111"/>
<rect x="263.1" y="196.9" width="2.2" height="2.2" fill="#111"/>
<rect x="275.2" y="198.0" width="2.2" height="2.2" fill="#111"/>
<rect x="287.4" y="203.3" width="2.2" height="2.2" fill="#111"/>
<path d="M216.0,180.1 C218.1,180.9 224.2,183.0 228.3,184.9 C232.4,186.8 236.3,189.9 240.3,191.7 C244.3,193.5 248.2,194.7 252.2,195.9 C256.2,197.1 260.2,198.4 264.2,199.1 C268.2,199.8 272.2,199.0 276.3,200.1 C280.4,201.2 286.5,204.5 288.5,205.4" fill="none" stroke="#111" stroke-width="0.8" />
<circle cx="216.0" cy="180.1" r="1.1" fill="#111"/>
<circle cx="228.3" cy="184.9" r="1.1" fill="#111"/>
<circle cx="240.3" cy="191.7" r="1.1" fill="#111"/>
<circle cx="252.2" cy="195.9" r="1.1" fill="#111"/>
<circle cx="264.2" cy="199.1" r="1.1" fill="#111"/>
<circle cx="276.3" cy="200.1" r="1.1" fill="#111"/>
<circle cx="288.5" cy="205.4" r="1.1" fill="#111"/>
<path d="M216.0,181.1 C218.1,182.0 224.2,184.6 228.3,186.4 C232.4,188.2 236.3,189.6 240.3,191.7 C244.3,193.8 248.2,197.7 252.2,199.1 C256.2,200.5 260.2,199.8 264.2,200.1 C268.2,200.4 272.2,200.0 276.3,201.2 C280.4,202.4 286.5,206.4 288.5,207.5" fill="none" stroke="#111" stroke-width="0.8" stroke-dasharray="3 1.5"/>
<rect x="214.9" y="180.0" width="2.2" height="2.2" fill="#111"/>
<rect x="227.2" y="185.3" width="2.2" height="2.2" fill="#111"/>
<rect x="239.2" y="190.6" width="2.2" height="2.2" fill="#111"/>
<rect x="251.1" y="198.0" width="2.2" height="2.2" fill="#111"/>
<rect x="263.1" y="199.0" width="2.2" height="2.2" fill="#111"/>
<rect x="275.2" y="200.1" width="2.2" height="2.2" fill="#111"/>
<rect x="287.4" y="206.4" width="2.2" height="2.2" fill="#111"/>
<path d="M216.0,182.2 C218.1,183.5 224.2,188.1 228.3,190.0 C232.4,191.9 236.3,191.9 240.3,193.8 C244.3,195.7 248.2,199.3 252.2,201.2 C256.2,203.1 260.2,204.8 264.2,205.0 C268.2,205.2 272.2,201.5 276.3,202.3 C280.4,203.1 286.5,208.5 288.5,209.7" fill="none" stroke="#333" stroke-width="0.75" stroke-dasharray="2 1.2"/>
<rect x="215.0" y="181.2" width="2.0" height="2.0" fill="#333"/>
<rect x="227.3" y="189.0" width="2.0" height="2.0" fill="#333"/>
<rect x="239.3" y="192.8" width="2.0" height="2.0" fill="#333"/>
<rect x="251.2" y="200.2" width="2.0" height="2.0" fill="#333"/>
<rect x="263.2" y="204.0" width="2.0" height="2.0" fill="#333"/>
<rect x="275.3" y="201.3" width="2.0" height="2.0" fill="#333"/>
<rect x="287.5" y="208.7" width="2.0" height="2.0" fill="#333"/>
<text x="336.5" y="160.4" font-size="12.4" font-weight="bold" text-anchor="start" fill="#000" >D</text>
<line x1="364.3" y1="161.8" x2="518.2" y2="161.8" stroke="#000" stroke-width="1.4" />
<line x1="364.3" y1="161.1" x2="364.3" y2="376.3" stroke="#000" stroke-width="1.5" />
<line x1="518.2" y1="161.1" x2="518.2" y2="376.3" stroke="#000" stroke-width="1.5" />
<line x1="364.3" y1="263.7" x2="518.2" y2="263.7" stroke="#000" stroke-width="1.8" />
<line x1="364.3" y1="367.1" x2="518.2" y2="367.1" stroke="#000" stroke-width="1.3" />
<line x1="364.3" y1="376.3" x2="518.2" y2="376.3" stroke="#000" stroke-width="1.3" />
<line x1="414.2" y1="367.1" x2="414.2" y2="376.3" stroke="#111" stroke-width="1.1" />
<line x1="465.8" y1="367.1" x2="465.8" y2="376.3" stroke="#111" stroke-width="1.1" />
<line x1="362.2" y1="179.6" x2="364.3" y2="179.6" stroke="#000" stroke-width="1.0" />
<text x="358.6" y="182.0" font-size="6.8" font-weight="bold" text-anchor="middle" fill="#000" >6</text>
<line x1="362.2" y1="282.7" x2="364.3" y2="282.7" stroke="#000" stroke-width="1.0" />
<text x="358.6" y="285.1" font-size="6.8" font-weight="bold" text-anchor="middle" fill="#000" >6</text>
<line x1="362.2" y1="196.4" x2="364.3" y2="196.4" stroke="#000" stroke-width="1.0" />
<text x="358.6" y="198.8" font-size="6.8" font-weight="bold" text-anchor="middle" fill="#000" >5</text>
<line x1="362.2" y1="299.6" x2="364.3" y2="299.6" stroke="#000" stroke-width="1.0" />
<text x="358.6" y="302.0" font-size="6.8" font-weight="bold" text-anchor="middle" fill="#000" >5</text>
<line x1="362.2" y1="213.2" x2="364.3" y2="213.2" stroke="#000" stroke-width="1.0" />
<text x="358.6" y="215.6" font-size="6.8" font-weight="bold" text-anchor="middle" fill="#000" >4</text>
<line x1="362.2" y1="316.5" x2="364.3" y2="316.5" stroke="#000" stroke-width="1.0" />
<text x="358.6" y="318.9" font-size="6.8" font-weight="bold" text-anchor="middle" fill="#000" >4</text>
<line x1="362.2" y1="230.0" x2="364.3" y2="230.0" stroke="#000" stroke-width="1.0" />
<text x="358.6" y="232.4" font-size="6.8" font-weight="bold" text-anchor="middle" fill="#000" >3</text>
<line x1="362.2" y1="333.4" x2="364.3" y2="333.4" stroke="#000" stroke-width="1.0" />
<text x="358.6" y="335.8" font-size="6.8" font-weight="bold" text-anchor="middle" fill="#000" >3</text>
<line x1="362.2" y1="246.8" x2="364.3" y2="246.8" stroke="#000" stroke-width="1.0" />
<text x="358.6" y="249.2" font-size="6.8" font-weight="bold" text-anchor="middle" fill="#000" >2</text>
<line x1="362.2" y1="350.3" x2="364.3" y2="350.3" stroke="#000" stroke-width="1.0" />
<text x="358.6" y="352.7" font-size="6.8" font-weight="bold" text-anchor="middle" fill="#000" >2</text>
<line x1="364.3" y1="246.8" x2="513.8" y2="246.8" stroke="#000" stroke-width="1.5" stroke-dasharray="3.7 1.9"/>
<line x1="364.3" y1="350.3" x2="513.8" y2="350.3" stroke="#000" stroke-width="1.5" stroke-dasharray="3.7 1.9"/>
<text x="513.4" y="245.1" font-size="6.3" font-weight="bold" text-anchor="end" fill="#000" >DL</text>
<text x="513.4" y="349.3" font-size="6.3" font-weight="bold" text-anchor="end" fill="#000" >DL</text>
<text x="478.2" y="172.9" font-size="9.8" font-weight="bold" text-anchor="start" fill="#000" textLength="37.4" lengthAdjust="spacingAndGlyphs">Salivary</text>
<text x="478.2" y="184.5" font-size="9.8" font-weight="bold" text-anchor="start" fill="#000" textLength="32.2" lengthAdjust="spacingAndGlyphs">glands</text>
<text x="515.3" y="276.8" font-size="9.8" font-weight="bold" text-anchor="end" fill="#000" >Lungs</text>
<text transform="translate(348.6,334.0) rotate(-90)" font-size="14.8" font-weight="normal" fill="#000" stroke="#000" stroke-width="0.45" textLength="142.8" lengthAdjust="spacing">Virus titer (log<tspan font-size="9.6" dy="2.8">10</tspan><tspan dy="-2.8"> PFU)</tspan></text>
<text x="377.2" y="375.0" font-size="6.4" font-weight="bold" fill="#000" lengthAdjust="spacing" textLength="27.3">C57BL/6</text>
<text x="432.2" y="375.0" font-size="6.4" font-weight="bold" fill="#000" lengthAdjust="spacing" textLength="16.9">RFX5</text>
<text x="451.3" y="373.2" font-size="4.2" font-weight="bold" fill="#666">-/-</text>
<text x="476.4" y="375.0" font-size="6.4" font-weight="bold" fill="#000" lengthAdjust="spacing" textLength="17.1">RFX5</text>
<text x="495.1" y="373.2" font-size="4.2" font-weight="bold" fill="#666">-/-</text>
<text x="502.4" y="375.0" font-size="6.4" font-weight="bold" fill="#000" lengthAdjust="spacing" textLength="13.0">TTX</text>
<line x1="394.8" y1="224.8" x2="394.8" y2="250.6" stroke="#000" stroke-width="1.1" />
<line x1="389.2" y1="233.3" x2="400.6" y2="233.3" stroke="#000" stroke-width="1.4" />
<circle cx="394.8" cy="224.8" r="1.5" fill="#fff" stroke="#000" stroke-width="1.1"/>
<circle cx="394.8" cy="231.3" r="1.5" fill="#fff" stroke="#000" stroke-width="1.1"/>
<circle cx="394.8" cy="233.8" r="1.5" fill="#fff" stroke="#000" stroke-width="1.1"/>
<circle cx="394.8" cy="241.0" r="1.5" fill="#fff" stroke="#000" stroke-width="1.1"/>
<circle cx="394.8" cy="250.6" r="1.5" fill="#fff" stroke="#000" stroke-width="1.1"/>
<line x1="434.4" y1="184.0" x2="448.5" y2="184.0" stroke="#000" stroke-width="1.3" />
<circle cx="438.3" cy="178.1" r="1.75" fill="#fff" stroke="#000" stroke-width="1.15"/>
<circle cx="444.6" cy="178.1" r="1.75" fill="#fff" stroke="#000" stroke-width="1.15"/>
<circle cx="437.7" cy="186.3" r="1.75" fill="#fff" stroke="#000" stroke-width="1.15"/>
<circle cx="441.5" cy="185.6" r="1.75" fill="#fff" stroke="#000" stroke-width="1.15"/>
<circle cx="445.2" cy="186.1" r="1.75" fill="#fff" stroke="#000" stroke-width="1.15"/>
<line x1="480.2" y1="197.9" x2="494.4" y2="197.9" stroke="#000" stroke-width="1.5" />
<line x1="487.5" y1="192.0" x2="487.5" y2="201.0" stroke="#000" stroke-width="1.4" />
<circle cx="487.3" cy="192.1" r="2.2" fill="#000"/>
<circle cx="487.7" cy="195.4" r="2.2" fill="#000"/>
<circle cx="484.4" cy="201.2" r="2.2" fill="#000"/>
<circle cx="487.7" cy="200.8" r="2.2" fill="#000"/>
<circle cx="490.8" cy="201.3" r="2.2" fill="#000"/>
<line x1="388.0" y1="355.2" x2="402.3" y2="355.2" stroke="#000" stroke-width="1.2" />
<circle cx="388.7" cy="353.8" r="1.6" fill="#fff" stroke="#000" stroke-width="1.2"/>
<circle cx="391.9" cy="356.1" r="1.6" fill="#fff" stroke="#000" stroke-width="1.2"/>
<circle cx="395.0" cy="354.2" r="1.6" fill="#fff" stroke="#000" stroke-width="1.2"/>
<circle cx="398.3" cy="356.1" r="1.6" fill="#fff" stroke="#000" stroke-width="1.2"/>
<circle cx="401.5" cy="353.8" r="1.6" fill="#fff" stroke="#000" stroke-width="1.2"/>
<circle cx="441.2" cy="344.6" r="1.9" fill="#fff" stroke="#000" stroke-width="1.2"/>
<circle cx="441.2" cy="349.8" r="1.9" fill="#fff" stroke="#000" stroke-width="1.2"/>
<circle cx="435.0" cy="354.2" r="1.9" fill="#fff" stroke="#000" stroke-width="1.2"/>
<circle cx="441.2" cy="354.2" r="1.9" fill="#fff" stroke="#000" stroke-width="1.2"/>
<circle cx="447.5" cy="354.2" r="1.9" fill="#fff" stroke="#000" stroke-width="1.2"/>
<circle cx="487.7" cy="339.8" r="2.15" fill="#000"/>
<circle cx="481.2" cy="354.2" r="2.15" fill="#000"/>
<circle cx="487.3" cy="353.8" r="2.15" fill="#000"/>
<circle cx="487.7" cy="356.5" r="2.15" fill="#000"/>
<circle cx="493.7" cy="354.2" r="2.15" fill="#000"/>
</svg>
</body></html>
